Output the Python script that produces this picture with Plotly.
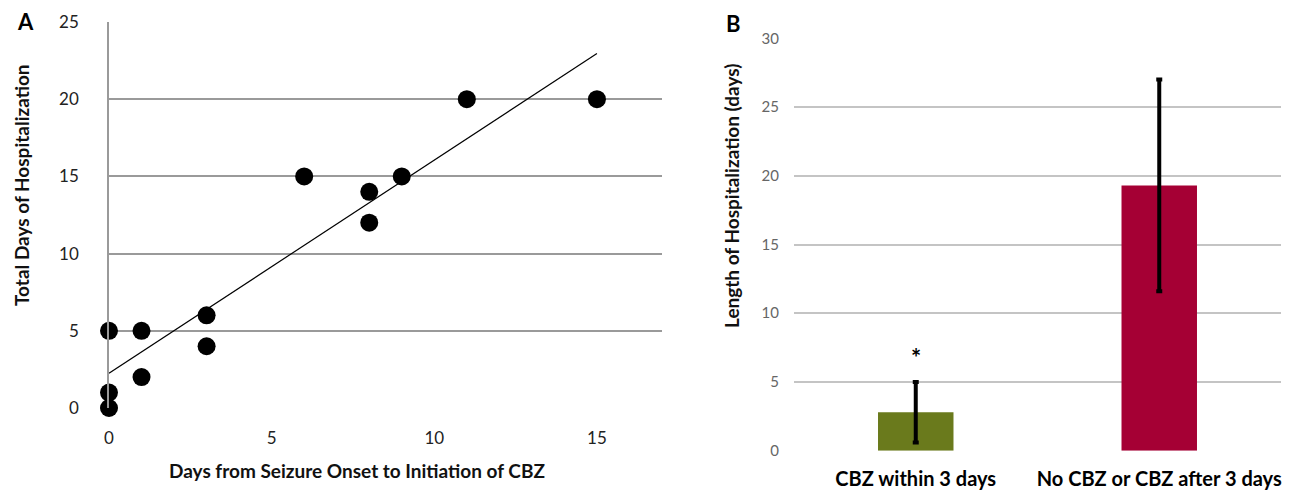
import numpy as np
import plotly.graph_objects as go

# Panel A data
days_to_cbz = [0, 0, 0, 1, 1, 3, 3, 6, 8, 8, 9, 11, 15]
total_days = [5, 1, 0, 5, 2, 6, 4, 15, 14, 12, 15, 20, 20]
a_xticks = [0, 5, 10, 15]
a_yticks = [0, 5, 10, 15, 20, 25]

# Panel B data
groups = ["CBZ within 3 days", "No CBZ or CBZ after 3 days"]
mean_los = [2.8, 19.3]
sd_los = [2.2, 7.7]
bar_colors = ["#6a7a1c", "#a50034"]
b_yticks = [0, 5, 10, 15, 20, 25, 30]
star_y = 6.8

W, H = 1293, 492
FONT = "Lato"

fig = go.Figure()

# trendline from least squares fit
slope, intercept = np.polyfit(days_to_cbz, total_days, 1)
x_line = [min(days_to_cbz), max(days_to_cbz)]
y_line = [intercept + slope * v for v in x_line]

fig.add_trace(go.Scatter(x=x_line, y=y_line, mode="lines",
                         line=dict(color="black", width=1.2),
                         xaxis="x", yaxis="y", showlegend=False, cliponaxis=False))
fig.add_trace(go.Scatter(x=days_to_cbz, y=total_days, mode="markers",
                         marker=dict(color="black", size=18),
                         xaxis="x", yaxis="y", showlegend=False, cliponaxis=False))

fig.add_trace(go.Bar(x=groups, y=mean_los, marker=dict(color=bar_colors, line=dict(width=0)),
                     error_y=dict(type="data", array=sd_los, color="black", thickness=4, width=3),
                     xaxis="x2", yaxis="y2", showlegend=False, width=0.31))

fig.update_layout(
    width=W, height=H,
    margin=dict(l=0, r=0, t=0, b=0),
    paper_bgcolor="white", plot_bgcolor="white",
    font=dict(family=FONT, color="black"),
    xaxis=dict(domain=[109 / W, 662 / W], range=[0, 17], tickvals=a_xticks,
               showgrid=False, zeroline=False, showline=False, ticks="",
               ticklabelstandoff=18, automargin=False,
               tickfont=dict(size=17, color="#222"), anchor="y"),
    yaxis=dict(domain=[1 - 408 / H, 1 - 22 / H], range=[0, 25], tickvals=a_yticks,
               showgrid=True, gridcolor="#9a9a9a", gridwidth=1.5,
               zeroline=False, showline=True, linecolor="#9a9a9a", linewidth=1.5,
               ticks="", ticklabelstandoff=25, automargin=False,
               tickfont=dict(size=17, color="#222"), anchor="x"),
    xaxis2=dict(domain=[794 / W, 1281 / W], showgrid=False, zeroline=False,
                showline=False, ticks="", anchor="y2", automargin=False,
                ticklabelstandoff=14,
                tickfont=dict(size=20, color="black", family=FONT, weight="bold")),
    yaxis2=dict(domain=[1 - 450.7 / H, 1 - 38.3 / H], range=[0, 30], tickvals=b_yticks,
                showgrid=True, gridcolor="#c4c4c4", gridwidth=1.5, zeroline=False,
                showline=False, ticks="", ticklabelstandoff=14, automargin=False,
                tickfont=dict(size=15, color="#666"), anchor="x2"),
    bargap=0.69,
)

title_font = dict(size=19, color="#111", family=FONT, weight="bold")
common = dict(xref="paper", yref="paper", xanchor="center", yanchor="middle", showarrow=False)
fig.add_annotation(x=357 / W, y=1 - 470 / H, text="Days from Seizure Onset to Initiation of CBZ",
                   font=title_font, **common)
fig.add_annotation(x=22 / W, y=1 - 185 / H, text="Total Days of Hospitalization", textangle=-90,
                   font=title_font, **common)
fig.add_annotation(x=731 / W, y=1 - 196 / H, text="Length of Hospitalization (days)", textangle=-90,
                   font=title_font, **common)
fig.add_annotation(x=25 / W, y=1 - 22 / H, text="<b>A</b>", font=dict(size=22, color="black"), **common)
fig.add_annotation(x=733 / W, y=1 - 23 / H, text="<b>B</b>", font=dict(size=22, color="black"), **common)

fig.add_annotation(x=groups[0], y=star_y, xref="x2", yref="y2", text="<b>*</b>",
                   showarrow=False, font=dict(size=24, color="black"))

fig.write_html("out.html", config={"displayModeBar": False},
               post_script="document.body.style.margin='0';document.body.style.overflow='hidden';")
